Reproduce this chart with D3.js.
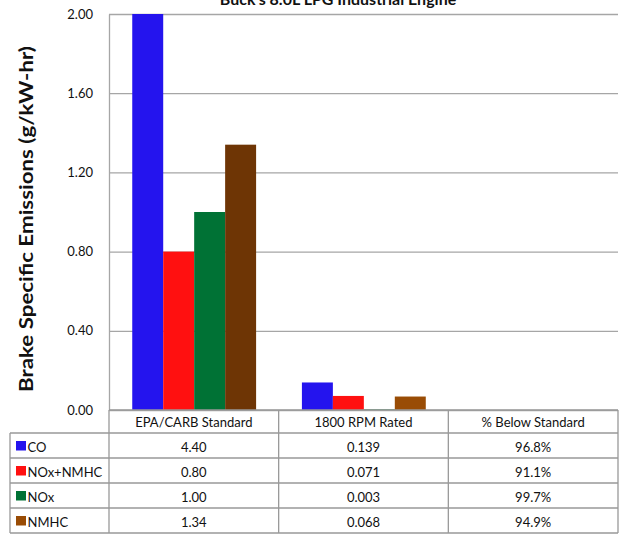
<!DOCTYPE html>
<html>
<head>
<meta charset="utf-8">
<script src="https://cdn.jsdelivr.net/npm/d3@7/dist/d3.min.js"></script>
<style>
  body { margin: 0; background: #fff; }
  text { font-family: Lato, "Open Sans", sans-serif; fill: #111; }
</style>
</head>
<body>
<svg id="chart" width="625" height="541"></svg>
<script>
/* data */
var categories = ["EPA/CARB Standard", "1800 RPM Rated", "% Below Standard"];
var series = ["CO", "NOx+NMHC", "NOx", "NMHC"];
var standard = [4.40, 0.80, 1.00, 1.34];      // g/kW-hr
var rated = [0.139, 0.071, 0.003, 0.068];     // g/kW-hr
var percentBelow = [96.8, 91.1, 99.7, 94.9];  // %
var yTicks = [0, 0.4, 0.8, 1.2, 1.6, 2.0];

// style only
var colors = ["#2414ee", "#ff1010", "#007235", "#994c05"];
var stdColors = ["#2414ee", "#ff1010", "#007235", "#6e3505"];
var gridColor = "#a6a6a6", lineColor = "#999";

var svg = d3.select("#chart");
// note: "top" is taken by window.top
var left = 109, right = 618, plotTop = 14, base = 410, tblLeft = 10;

var x0 = d3.scaleBand().domain(categories).range([left, right]);
var bw = x0.bandwidth();
var x1 = d3.scaleBand().domain(series).range([bw * 0.137, bw * 0.867]);
var y = d3.scaleLinear().domain([0, 2]).range([base, plotTop]).clamp(true);

// title, mostly cut off by the top edge
svg.append("text")
  .attr("x", 338).attr("y", 5)
  .attr("text-anchor", "middle")
  .style("font-size", "16px").style("font-weight", "bold")
  .text("Buck's 8.0L LPG Industrial Engine");

// y axis with gridlines
var yAxis = svg.append("g")
  .attr("transform", "translate(" + left + ",0)")
  .call(d3.axisLeft(y).tickValues(yTicks).tickFormat(d3.format(".2f"))
    .tickSize(-(right - left)).tickSizeOuter(0).tickPadding(16));
yAxis.select(".domain").attr("stroke", gridColor).attr("stroke-width", 1.3);
yAxis.selectAll(".tick line").attr("stroke", gridColor).attr("stroke-width", 1.3);
yAxis.selectAll(".tick text").style("font-size", "13px").attr("fill", "#111");

svg.append("text")
  .attr("transform", "translate(33," + 219 + ") rotate(-90)")
  .attr("text-anchor", "middle")
  .attr("textLength", 346).attr("lengthAdjust", "spacingAndGlyphs")
  .style("font-size", "19px").style("font-weight", "bold")
  .text("Brake Specific Emissions (g/kW-hr)");

// bars for the two measured columns
var groups = [
  { cat: categories[0], vals: standard, fills: stdColors },
  { cat: categories[1], vals: rated, fills: colors }
];
svg.append("g").selectAll("g")
  .data(groups)
  .join("g")
  .attr("transform", function(g) { return "translate(" + x0(g.cat) + ",0)"; })
  .selectAll("rect")
  .data(function(g) {
    return g.vals.map(function(v, i) { return { s: series[i], v: v, fill: g.fills[i] }; });
  })
  .join("rect")
  .attr("x", function(d) { return x1(d.s); })
  .attr("width", x1.bandwidth())
  .attr("y", function(d) { return y(d.v); })
  .attr("height", function(d) { return base - y(d.v); })
  .attr("fill", function(d) { return d.fill; });

// data table under the plot
var headBottom = 433;
var rowY = d3.scaleBand().domain(series).range([headBottom, headBottom + 100]);
var tblBottom = headBottom + 100;
var tbl = svg.append("g");

function hline(yy, x1_, x2_) {
  tbl.append("line").attr("x1", x1_).attr("x2", x2_).attr("y1", yy).attr("y2", yy)
    .attr("stroke", lineColor).attr("stroke-width", 1.3);
}
function vline(xx, y1_, y2_) {
  tbl.append("line").attr("x1", xx).attr("x2", xx).attr("y1", y1_).attr("y2", y2_)
    .attr("stroke", lineColor).attr("stroke-width", 1.3);
}

hline(base, left, right);
hline(headBottom, tblLeft, right);
series.forEach(function(s) { hline(rowY(s) + rowY.bandwidth(), tblLeft, right); });
vline(tblLeft, headBottom, tblBottom);
vline(left, base, tblBottom);
categories.forEach(function(c) { vline(x0(c) + bw, base, tblBottom); });

tbl.selectAll("text.head")
  .data(categories)
  .join("text")
  .attr("class", "head")
  .attr("x", function(c) { return x0(c) + bw / 2; })
  .attr("y", base + 17)
  .attr("text-anchor", "middle")
  .style("font-size", "13px")
  .text(function(c) { return c; });

var columns = [
  { cat: categories[0], vals: standard, fmt: d3.format(".2f") },
  { cat: categories[1], vals: rated, fmt: d3.format(".3f") },
  { cat: categories[2], vals: percentBelow, fmt: function(v) { return d3.format(".1f")(v) + "%"; } }
];

var rows = tbl.selectAll("g.row")
  .data(series)
  .join("g")
  .attr("class", "row")
  .attr("transform", function(s) { return "translate(0," + rowY(s) + ")"; });

rows.append("rect")
  .attr("x", 16).attr("y", 8)
  .attr("width", 10).attr("height", 9.5)
  .attr("fill", function(s, i) { return colors[i]; });

rows.append("text")
  .attr("x", 27.5).attr("y", 18.5)
  .style("font-size", "13px")
  .text(function(s) { return s; });

columns.forEach(function(col) {
  rows.append("text")
    .attr("x", x0(col.cat) + bw / 2)
    .attr("y", 18.5)
    .attr("text-anchor", "middle")
    .style("font-size", "13px")
    .text(function(s, i) { return col.fmt(col.vals[i]); });
});
</script>
</body>
</html>
